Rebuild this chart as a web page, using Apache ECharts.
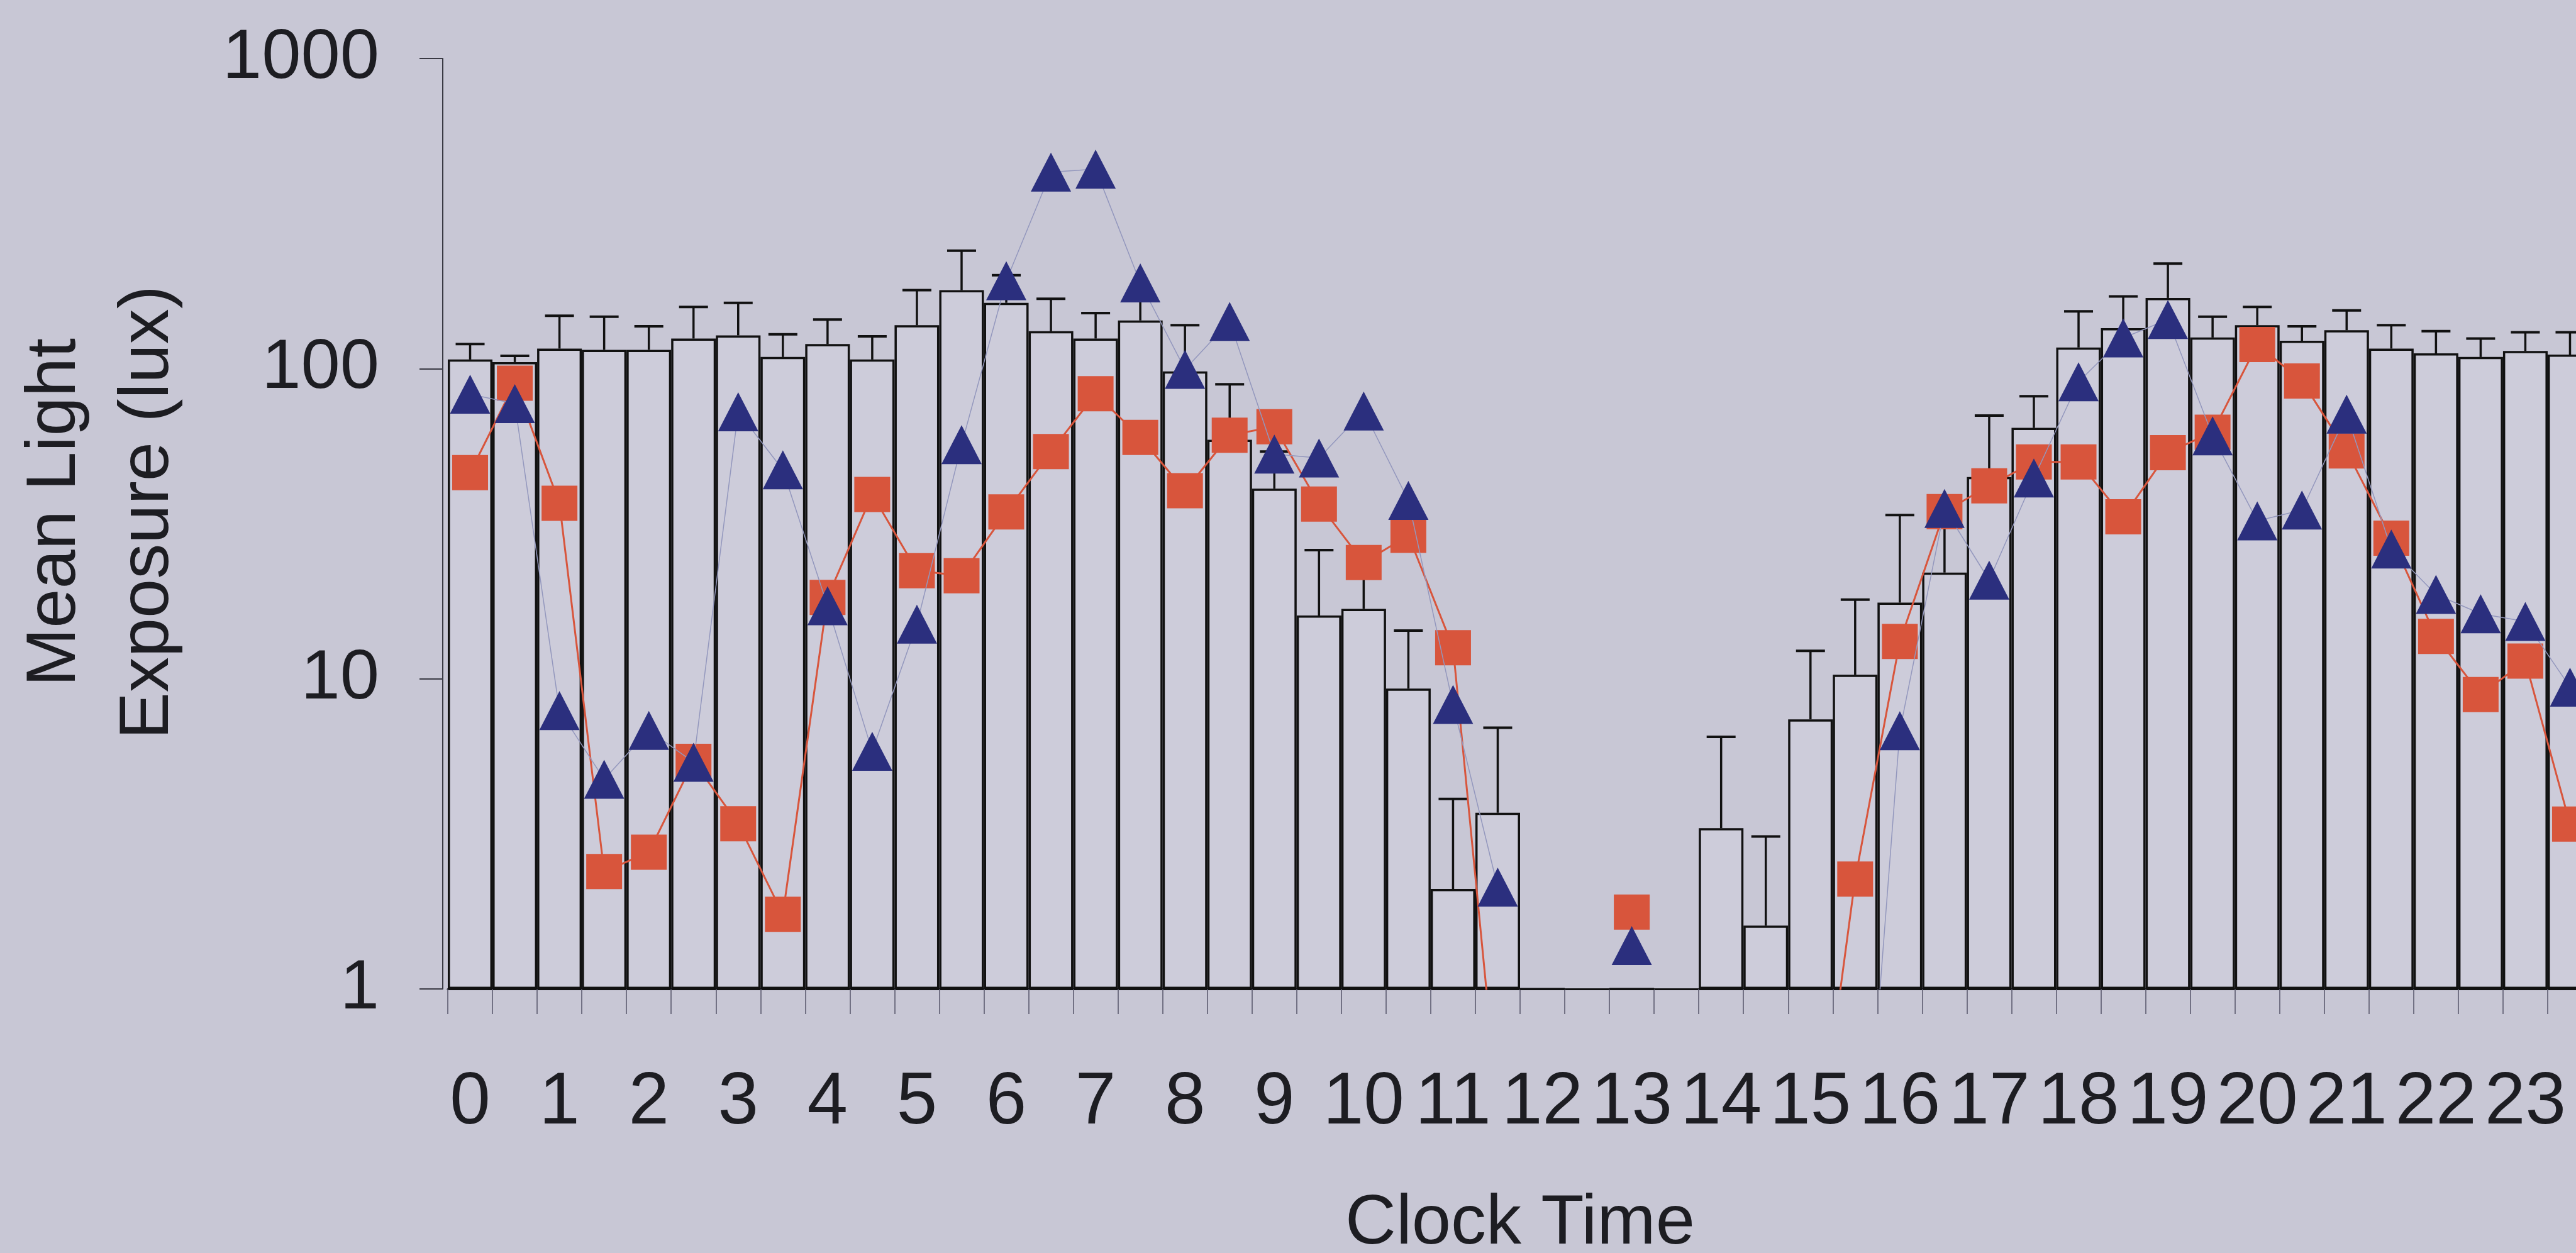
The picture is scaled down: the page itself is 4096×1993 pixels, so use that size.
<!DOCTYPE html>
<html>
<head>
<meta charset="utf-8">
<script src="https://cdn.jsdelivr.net/npm/echarts@6/dist/echarts.min.js"></script>
<style>
html,body{margin:0;padding:0;background:#c8c7d5;}
#chart{width:4096px;height:1993px;}
</style>
</head>
<body>
<div id="chart"></div>
<script>
// Half-hour bins across the day
const timeBins = ['0:00','0:30','1:00','1:30','2:00','2:30','3:00','3:30','4:00','4:30','5:00','5:30',
  '6:00','6:30','7:00','7:30','8:00','8:30','9:00','9:30','10:00','10:30','11:00','11:30',
  '12:00','12:30','13:00','13:30','14:00','14:30','15:00','15:30','16:00','16:30','17:00','17:30',
  '18:00','18:30','19:00','19:30','20:00','20:30','21:00','21:30','22:00','22:30','23:00','23:30'];
const hourLabels = ['0','1','2','3','4','5','6','7','8','9','10','11','12','13','14','15','16','17','18','19','20','21','22','23'];
const yTickLabels = ['1','10','100','1000'];

// Mean light exposure (bars) and upper error
const meanLux = [107,105,116,115,115,125,128,109,120,107,138,179,163,132,125,143,98,59,41,16,16.8,9.3,2.1,3.7,
  1,null,1,null,3.3,1.6,7.4,10.3,17.6,22,44.7,64.4,117,135,169,126,138,123,133,116,112,109,114,111];
const meanLuxUpper = [120,110,148,147,137,158,163,129,144,127,179,240,200,168,151,167,138,89,54,26,22,14.3,4.1,6.95,
  null,null,null,null,6.5,3.1,12.3,18,33.7,33,70.6,81.5,153,171,218,147,158,137,154,138,132,125,131,131];

// Individual subjects (squares and triangles)
const squareSeries = [46.2,89.8,36.8,2.39,2.76,5.42,3.41,1.74,18.3,39.3,22.3,21.5,34.5,54,83,60,40.4,61,65,36.6,23.7,29,12.6,0.42,
  null,null,1.77,null,null,null,0.19,2.26,13.2,34.6,41.9,50,50,33.3,53.6,62.4,119.6,91.2,54.3,28.4,13.7,8.9,11.4,3.4];
const triangleSeries = [82.7,77.1,7.9,4.74,6.82,5.38,72.6,47.2,17.2,5.84,15.0,56.9,192,430,440,189,99.5,142,53,51.5,73,37.6,8.26,2.13,
  null,null,1.38,null,null,null,null,0.09,6.8,35.4,20.8,44.4,90.7,125.6,144,60.7,32.3,35,71.3,26.2,18.7,16.2,15.3,9.4];

const errData = [];
meanLux.forEach((v, i) => {
  if (v != null && meanLuxUpper[i] != null) errData.push([i, v, meanLuxUpper[i]]);
});

const FONT = "'Liberation Sans', Arial, sans-serif";
const TXT = '#1d1d22';

const chart = echarts.init(document.getElementById('chart'), null, {renderer: 'canvas'});
chart.setOption({
  animation: false,
  backgroundColor: '#c8c7d5',
  grid: {left: 712, top: 93, bottom: 420, right: -26, containLabel: false, outerBoundsMode: 'none'},
  xAxis: {
    type: 'category',
    data: timeBins,
    boundaryGap: true,
    axisLine: {show: true, onZero: false, lineStyle: {color: '#111', width: 3}},
    axisTick: {show: true, interval: 0, length: 40, lineStyle: {color: '#55556a', width: 1.5}},
    axisLabel: {
      interval: 1, margin: 124, fontSize: 116, fontFamily: FONT, color: TXT,
      formatter: (val, idx) => hourLabels[timeBins.indexOf(val) / 2] || ''
    },
    name: 'Clock Time',
    nameLocation: 'middle',
    nameGap: 318,
    nameTextStyle: {fontSize: 112, fontFamily: FONT, color: TXT},
    splitLine: {show: false}
  },
  yAxis: {
    type: 'log',
    logBase: 10,
    min: 1,
    max: 1000,
    offset: 8,
    axisLine: {show: true, lineStyle: {color: '#3a3a44', width: 2}},
    axisTick: {show: true, length: 37, lineStyle: {color: '#3a3a44', width: 2}},
    axisLabel: {
      margin: 101, fontSize: 112, fontFamily: FONT, color: TXT,
      padding: [20, 0, 0, 0],
      formatter: (v) => yTickLabels[Math.round(Math.log10(v))]
    },
    splitLine: {show: false},
    name: 'Mean Light\nExposure (lux)',
    nameLocation: 'middle',
    nameGap: 394,
    nameRotate: 90,
    nameTextStyle: {fontSize: 112, lineHeight: 148, fontFamily: FONT, color: TXT, padding: [0, 0, 0, 36]}
  },
  series: [
    {
      type: 'bar',
      data: meanLux,
      barCategoryGap: '0%',
      itemStyle: {color: '#cdccda', borderColor: '#111', borderWidth: 3.5},
      z: 2
    },
    {
      type: 'custom',
      data: errData,
      encode: {x: 0, y: [1, 2]},
      z: 3,
      renderItem: (params, api) => {
        const b = api.coord([api.value(0), api.value(1)]);
        const t = api.coord([api.value(0), api.value(2)]);
        return {
          type: 'group',
          children: [
            {type: 'line', shape: {x1: b[0], y1: b[1], x2: t[0], y2: t[1]}, style: {stroke: '#111', lineWidth: 3.5}},
            {type: 'line', shape: {x1: t[0] - 23, y1: t[1], x2: t[0] + 23, y2: t[1]}, style: {stroke: '#111', lineWidth: 4}}
          ]
        };
      }
    },
    {
      type: 'line',
      data: squareSeries,
      symbol: 'rect',
      symbolSize: [57, 56],
      showAllSymbol: true,
      connectNulls: false,
      clip: true,
      itemStyle: {color: '#d8553c'},
      lineStyle: {color: '#d8553c', width: 3},
      z: 4
    },
    {
      type: 'line',
      data: triangleSeries,
      symbol: 'triangle',
      symbolSize: [64, 62],
      showAllSymbol: true,
      connectNulls: false,
      clip: true,
      itemStyle: {color: '#2b2f7e'},
      lineStyle: {color: '#9397bd', width: 1.5},
      z: 5
    }
  ]
});
</script>
</body>
</html>
